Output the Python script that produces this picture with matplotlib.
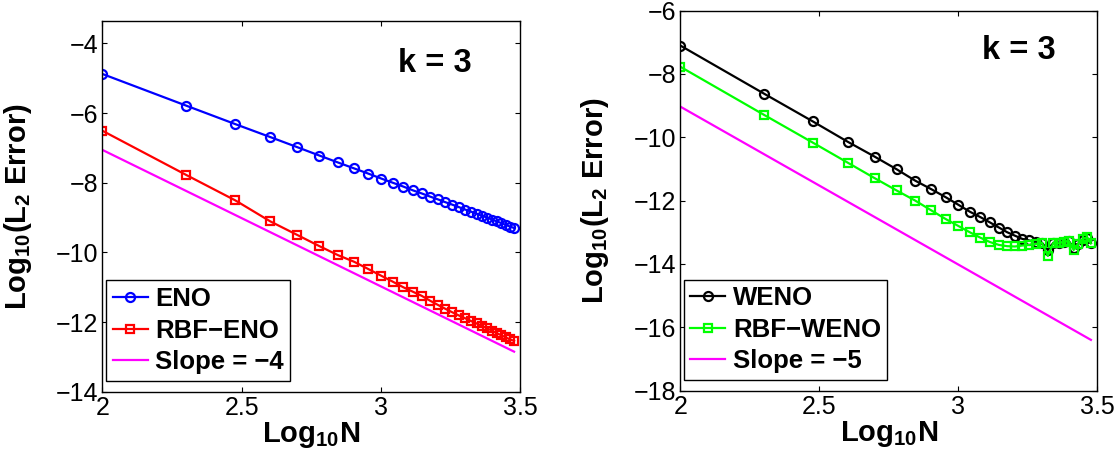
import numpy as np
import matplotlib
matplotlib.use("Agg")
import matplotlib.pyplot as plt

# grid sizes N = 100, 200, ..., 3000
N = [100, 200, 300, 400, 500, 600, 700, 800, 900, 1000,
     1100, 1200, 1300, 1400, 1500, 1600, 1700, 1800, 1900, 2000,
     2100, 2200, 2300, 2400, 2500, 2600, 2700, 2800, 2900, 3000]

# left panel: log10 L2 error
eno = [-4.88, -5.79, -6.32, -6.69, -6.98, -7.22, -7.42, -7.59, -7.74, -7.88,
       -8.00, -8.11, -8.22, -8.31, -8.40, -8.48, -8.56, -8.63, -8.70, -8.77,
       -8.83, -8.89, -8.95, -9.00, -9.06, -9.11, -9.16, -9.21, -9.26, -9.30]
rbf_eno = [-6.51, -7.78, -8.51, -9.11, -9.50, -9.82, -10.08, -10.27, -10.48, -10.67,
           -10.84, -11.00, -11.13, -11.25, -11.39, -11.51, -11.62, -11.72, -11.81, -11.89,
           -11.97, -12.04, -12.11, -12.18, -12.25, -12.32, -12.38, -12.44, -12.50, -12.54]
slope_left_n = [100, 3000]
slope_left = [-7.06, -12.85]

# right panel
weno = [-7.10, -8.62, -9.50, -10.14, -10.61, -11.01, -11.37, -11.64, -11.89, -12.13,
        -12.35, -12.52, -12.69, -12.85, -13.00, -13.11, -13.21, -13.26, -13.30, -13.33,
        -13.56, -13.33, -13.35, -13.31, -13.28, -13.50, -13.36, -13.24, -13.18, -13.34]
rbf_weno = [-7.77, -9.29, -10.17, -10.80, -11.29, -11.68, -12.00, -12.31, -12.58, -12.80,
            -13.00, -13.17, -13.31, -13.40, -13.44, -13.45, -13.42, -13.40, -13.37, -13.33,
            -13.75, -13.33, -13.35, -13.30, -13.28, -13.56, -13.36, -13.22, -13.16, -13.35]
slope_right_n = [100, 3000]
slope_right = [-9.03, -16.40]

x_ticks = [2, 2.5, 3, 3.5]
x_tick_labels = ["2", "2.5", "3", "3.5"]
left_y_ticks = [-14, -12, -10, -8, -6, -4]
right_y_ticks = [-18, -16, -14, -12, -10, -8, -6]


def style_axes(ax, yticks, ylim):
    ax.set_xlim(2, 3.5)
    ax.set_ylim(*ylim)
    ax.set_xticks(x_ticks)
    ax.set_xticklabels(x_tick_labels)
    ax.set_yticks(yticks)
    ax.set_yticklabels([str(v).replace("-", "\u2212") for v in yticks])
    ax.tick_params(direction="in", top=True, right=True, length=3.5, width=0.8,
                   labelsize=18, pad=3)
    for sp in ax.spines.values():
        sp.set_linewidth(1.0)
    ax.set_xlabel("Log$_{10}$N", fontsize=21, fontweight="bold", labelpad=0)
    ax.set_ylabel("Log$_{10}$(L$_2$ Error)", fontsize=21, fontweight="bold")
    ax.yaxis.set_label_coords(-0.165, 0.5)


def main():
    plt.rcParams["font.family"] = ["Liberation Sans", "DejaVu Sans"]
    plt.rcParams["mathtext.fontset"] = "custom"
    plt.rcParams["mathtext.rm"] = "Liberation Sans:bold"
    plt.rcParams["mathtext.it"] = "Liberation Sans:bold"
    plt.rcParams["mathtext.bf"] = "Liberation Sans:bold"
    plt.rcParams["mathtext.default"] = "rm"

    x = np.log10(N)

    fig = plt.figure(figsize=(11.2, 4.61), dpi=100)
    ax1 = fig.add_axes([0.0915, 0.1503, 0.3732, 0.8048])
    ax2 = fig.add_axes([0.6074, 0.1529, 0.3723, 0.8239])

    lw = 1.6
    ax1.plot(x, eno, "-o", color="blue", lw=lw, ms=6.5, mfc="none", mew=1.6, label="ENO")
    ax1.plot(x, rbf_eno, "-s", color="red", lw=lw, ms=5.5, mfc="none", mew=1.6,
             label="RBF\u2212ENO")
    ax1.plot(np.log10(slope_left_n), slope_left, "-", color="magenta", lw=lw,
             label="Slope = \u22124")
    style_axes(ax1, left_y_ticks, (-14, -3.35))
    ax1.text(0.708, 0.8625, "k = 3", transform=ax1.transAxes, fontsize=23.5,
             fontweight="bold", va="baseline", ha="left")

    ax2.plot(x, weno, "-o", color="black", lw=lw, ms=6.5, mfc="none", mew=1.6, label="WENO")
    ax2.plot(x, rbf_weno, "-s", color="#00ff00", lw=lw, ms=5.5, mfc="none", mew=1.6,
             label="RBF\u2212WENO")
    ax2.plot(np.log10(slope_right_n), slope_right, "-", color="magenta", lw=lw,
             label="Slope = \u22125")
    style_axes(ax2, right_y_ticks, (-18, -6))
    ax2.text(0.723, 0.872, "k = 3", transform=ax2.transAxes, fontsize=23.5,
             fontweight="bold", va="baseline", ha="left")

    for ax, anchor in [(ax1, (0.0095, 0.0296)), (ax2, (0.009, 0.028))]:
        leg = ax.legend(loc="lower left", bbox_to_anchor=anchor, borderaxespad=0,
                        prop={"weight": "bold", "size": 18.5},
                        numpoints=1, handlelength=1.35, handletextpad=0.3,
                        labelspacing=0.3, borderpad=0.25, fancybox=False,
                        framealpha=1, edgecolor="black")
        leg.get_frame().set_linewidth(1.0)

    fig.savefig("out.png", dpi=100)
    plt.close(fig)


if __name__ == "__main__":
    main()
